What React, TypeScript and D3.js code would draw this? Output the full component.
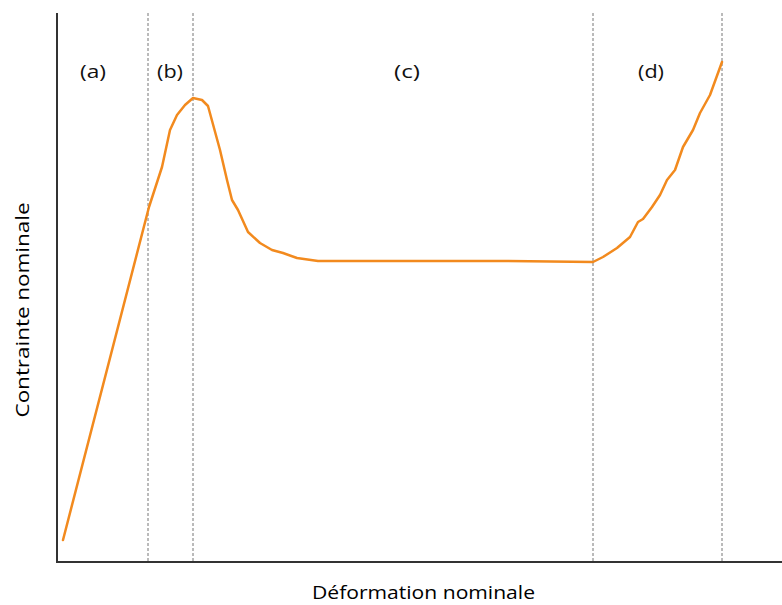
import React from "react";
import * as d3 from "d3";

// Strain (arbitrary units) and nominal stress (arbitrary units)
const strain = [6, 92, 105, 113, 120, 128, 136, 145, 151, 163, 170, 175, 181, 191, 203, 215, 226, 240, 261, 350, 450, 536, 546, 560, 573, 581, 586, 595, 603, 610, 618, 626, 636, 643, 653, 665];
const stress = [22, 355, 395, 432, 447, 457, 464, 462, 456, 412, 382, 362, 352, 330, 319, 312, 309, 304, 301, 301, 301, 300, 305, 314, 325, 340, 343, 355, 367, 382, 392, 415, 432, 449, 467, 500];
const boundaries = [91, 136, 536, 665];
const zoneLabels = ["(a)", "(b)", "(c)", "(d)"];
const zoneCenters = [36, 113, 350, 594];
const xTitle = "Déformation nominale";
const yTitle = "Contrainte nominale";

export default function App() {
  const W = 782, H = 605;
  const x = d3.scaleLinear().domain([0, 725]).range([57, 782]);
  const y = d3.scaleLinear().domain([0, 549]).range([562, 13]);
  const pts: [number, number][] = strain.map((s, i) => [s, stress[i]]);
  const line = d3.line<[number, number]>().x(d => x(d[0])).y(d => y(d[1]));
  const font = "'Open Sans', 'DejaVu Sans', sans-serif";
  return (
    <svg width={W} height={H} style={{ position: "absolute", left: 0, top: 0, background: "#fff" }}>
      {boundaries.map((b, i) => (
        <line key={i} x1={x(b)} x2={x(b)} y1={y(549)} y2={y(0)} stroke="#777" strokeWidth={1} strokeDasharray="3,2" />
      ))}
      <line x1={x(0)} x2={x(0)} y1={y(549)} y2={y(0) + 1} stroke="#333" strokeWidth={2} />
      <line x1={x(0) - 1} x2={x(725)} y1={y(0)} y2={y(0)} stroke="#333" strokeWidth={2} />
      <path d={line(pts) || ""} fill="none" stroke="#f28a1e" strokeWidth={2.5} strokeLinejoin="round" strokeLinecap="round" />
      {zoneLabels.map((t, i) => (
        <text key={t} x={x(zoneCenters[i])} y={78} textAnchor="middle" fontFamily={font} fontSize={19} fill="#111" textLength={26} lengthAdjust="spacingAndGlyphs">{t}</text>
      ))}
      <text x={423.5} y={599} textAnchor="middle" fontFamily={font} fontSize={18} fill="#000" textLength={223} lengthAdjust="spacingAndGlyphs">{xTitle}</text>
      <text transform="translate(29,310) rotate(-90)" textAnchor="middle" fontFamily={font} fontSize={19} fill="#000" textLength={215} lengthAdjust="spacingAndGlyphs">{yTitle}</text>
    </svg>
  );
}
